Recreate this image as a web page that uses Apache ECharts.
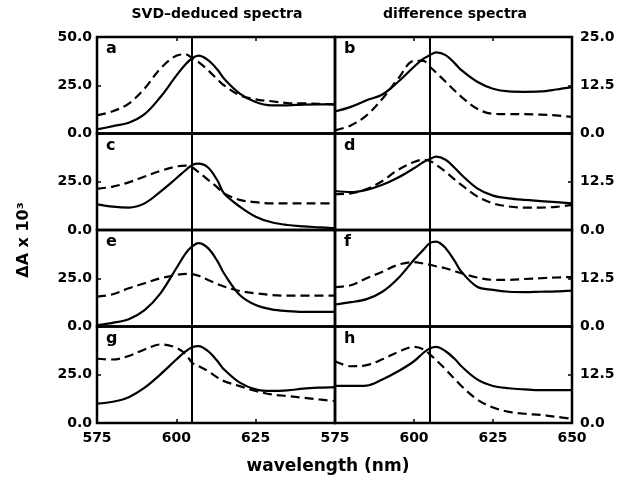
<!DOCTYPE html>
<html>
<head>
<meta charset="utf-8">
<script src="https://cdn.jsdelivr.net/npm/echarts@6/dist/echarts.min.js"></script>
<style>
html,body{margin:0;padding:0;background:#fff;}
#chart{width:618px;height:479px;}
</style>
</head>
<body>
<div id="chart"></div>
<script>
// wavelength grid (nm)
const wavelengths = [575,580,585,590,595,600,603,605,607,610,613,615,620,625,630,635,640,645,650];

// SVD-deduced spectra (left column, ΔA x 10^3)
const aSolid  = [2.1,3.8,5.6,10.0,18.9,30,36,39,40.3,38,33,28.5,20.7,16.3,14.6,14.6,15,15.1,15.1];
const aDashed = [9.4,11.5,15.5,23.3,33.7,40.3,41,39,37,32.8,28,25,19.8,17.7,16.7,15.8,15.6,15.4,15.1];
const cSolid  = [13.3,12.1,11.6,13.8,19.9,26.8,31.1,33.7,34.4,32.4,25.5,19,12.1,6.9,4,2.6,1.9,1.4,0.9];
const cDashed = [21.3,22.5,24.7,27.7,30.6,32.9,33.4,32.4,30,26,22,19,15.6,14.4,13.8,13.8,13.8,13.8,13.8];
const eSolid  = [0.7,1.9,3.8,8.5,17.2,30.2,38,41.5,43.2,40.6,33.7,27.6,16.3,11.1,8.9,8,7.6,7.6,7.6];
const eDashed = [15.5,16.7,19.8,22.4,25,26.7,27.3,27.1,26.3,24.1,22,20.7,18.4,17.2,16.3,16,16,16,16];
const gSolid  = [10,11,13.4,18.3,25.2,32.9,37.2,39.3,39.8,37.2,32,27.8,20.9,17.4,16.6,16.9,17.8,18.3,18.6];
const gDashed = [33.3,32.9,34.7,38.1,40.7,39,35.5,31.2,29.5,26.9,23.5,21.7,19.1,16.6,14.8,14,13.1,12.2,11.4];

// difference spectra (right column)
const bSolid  = [5.7,6.9,8.6,10.1,13.4,17.3,19.4,20.3,21,20.3,18.1,16.4,13.4,11.6,10.9,10.8,10.9,11.4,12];
const bDashed = [0.8,2.1,4.7,9,14.2,18.8,18.8,17.3,15.8,13.4,11,9.5,6.4,5.1,5,5,4.9,4.7,4.3];
const dSolid  = [10.1,9.8,10.4,11.7,13.6,16,17.6,18.4,19,18.2,16,14.3,10.8,8.9,8.2,7.8,7.5,7.2,6.9];
const dDashed = [9.3,9.5,10.6,12.7,15.6,17.6,18.2,17.9,16.9,15.1,13,11.7,8.7,6.9,6.1,5.8,5.8,6,6.5];
const fSolid  = [5.7,6.3,7.1,9,12.5,17.3,19.9,21.6,22,20.3,16.8,14.2,10.3,9.5,9,8.9,9,9.1,9.3];
const fDashed = [10.2,10.7,12.5,14.2,16,16.7,16.3,16,15.6,15.1,14.3,13.8,12.7,12.1,12.1,12.3,12.5,12.7,12.8];
const hSolid  = [9.6,9.6,9.7,11.3,13.4,16,18.2,19.3,19.7,18.6,16.5,14.7,11.3,9.6,9,8.7,8.5,8.5,8.5];
const hDashed = [16,14.7,15,16.5,18.4,19.7,19.1,17.8,16.3,13.9,11.3,9.6,6.1,4,2.9,2.4,2.1,1.6,1.1];

const panelLetters = ['a','b','c','d','e','f','g','h'];
const panelData = [
  [aSolid,aDashed],[bSolid,bDashed],
  [cSolid,cDashed],[dSolid,dDashed],
  [eSolid,eDashed],[fSolid,fDashed],
  [gSolid,gDashed],[hSolid,hDashed]
];
const xMin = 575, xMax = 650, xStep = 25;
const leftYMax = 50, leftYStep = 25;
const rightYMax = 25, rightYStep = 12.5;
const markWavelength = 605;

const colTitles = ['SVD\u2013deduced spectra','difference spectra'];
const yTitle = '\u0394A x 10\u00b3';
const xTitle = 'wavelength (nm)';

const FONT = 'DejaVu Sans';
const cols = [{left:97,width:238},{left:335,width:237}];
const tops = [37,133.5,230,326.5];
const H = 96.5;

const grid = [], xAxis = [], yAxis = [], series = [], graphic = [];
const labelStyle = {color:'#000', fontFamily:FONT, fontWeight:'bold', fontSize:14};

for (let r=0;r<4;r++){
  for (let c=0;c<2;c++){
    const i = r*2+c;
    grid.push({left:cols[c].left, top:tops[r], width:cols[c].width, height:H,
      show:true, borderColor:'#000', borderWidth:2.5, backgroundColor:'transparent'});
    const bottomRow = r===3, topRow = r===0;
    xAxis.push({type:'value', gridIndex:i, min:xMin, max:xMax, interval:xStep, position:'bottom',
      axisLine:{show:false}, splitLine:{show:false},
      axisTick:{show:bottomRow, inside:true, length:4, lineStyle:{color:'#000',width:1.5}},
      axisLabel:Object.assign({show:bottomRow, margin:8, showMaxLabel:c===1}, labelStyle)});
    xAxis.push({type:'value', gridIndex:i, min:xMin, max:xMax, interval:xStep, position:'top',
      axisLine:{show:false}, splitLine:{show:false},
      axisTick:{show:topRow, inside:true, length:4, lineStyle:{color:'#000',width:1.5}},
      axisLabel:{show:false}});
    const ymax = c===0 ? leftYMax : rightYMax;
    const ystep = c===0 ? leftYStep : rightYStep;
    yAxis.push({type:'value', gridIndex:i, min:0, max:ymax, interval:ystep,
      position: c===0 ? 'left' : 'right',
      axisLine:{show:false}, splitLine:{show:false},
      axisTick:{show:true, inside:true, length:4, lineStyle:{color:'#000',width:1.5}},
      axisLabel:Object.assign({show:true, margin: c===0?5:8, showMaxLabel:topRow,
        formatter:v=>v.toFixed(1)}, labelStyle)});
    const xi = i*2;
    const [sol, dash] = panelData[i];
    series.push({type:'line', xAxisIndex:xi, yAxisIndex:i, showSymbol:false, smooth:0.35,
      data: wavelengths.map((w,k)=>[w,sol[k]]),
      lineStyle:{color:'#000', width:2.2}, z:3,
      markLine:{silent:true, symbol:['none','none'], label:{show:false},
        lineStyle:{color:'#000', type:'solid', width:2}, data:[{xAxis:markWavelength}]}});
    series.push({type:'line', xAxisIndex:xi, yAxisIndex:i, showSymbol:false, smooth:0.35,
      data: wavelengths.map((w,k)=>[w,dash[k]]),
      lineStyle:{color:'#000', width:2.2, type:[9,5]}, z:3});
    graphic.push({type:'text', left:cols[c].left+9, top:tops[r]+4,
      style:{text:panelLetters[i], fill:'#000', font:'bold 16px "'+FONT+'"'}});
  }
}
graphic.push({type:'text', x:217, y:14, style:{text:colTitles[0], fill:'#000', font:'bold 14px "'+FONT+'"', align:'center', verticalAlign:'middle'}});
graphic.push({type:'text', x:455, y:14, style:{text:colTitles[1], fill:'#000', font:'bold 14px "'+FONT+'"', align:'center', verticalAlign:'middle'}});
graphic.push({type:'text', x:24, y:240, rotation:Math.PI/2, style:{text:yTitle, fill:'#000', font:'bold 16px "'+FONT+'"', align:'center', verticalAlign:'middle'}});
graphic.push({type:'text', x:328, y:467, style:{text:xTitle, fill:'#000', font:'bold 17px "'+FONT+'"', align:'center', verticalAlign:'middle'}});

const chart = echarts.init(document.getElementById('chart'), null, {renderer:'canvas'});
chart.setOption({animation:false, backgroundColor:'#fff', grid, xAxis, yAxis, series, graphic});
</script>
</body>
</html>
